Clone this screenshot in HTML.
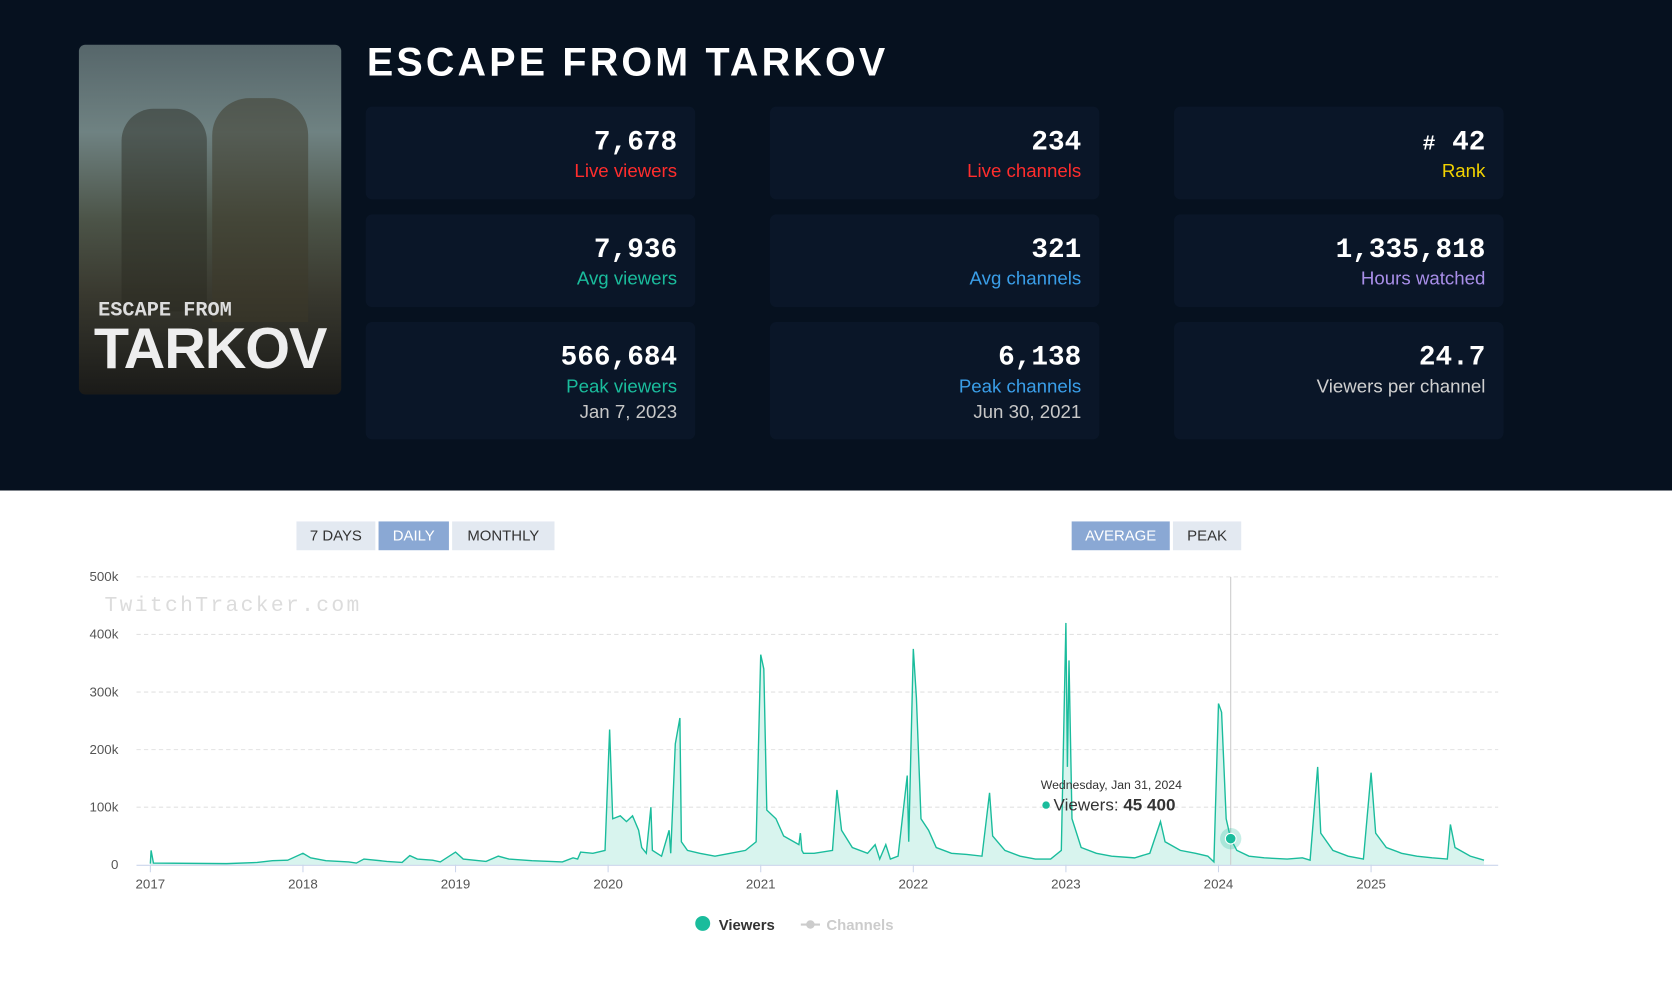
<!DOCTYPE html>
<html><head><meta charset="utf-8">
<style>
html,body{margin:0;padding:0;width:1672px;height:984px;overflow:hidden;background:#fff;font-family:"Liberation Sans",sans-serif}
#root{position:absolute;left:0;top:0;width:1568px;height:923px;transform:scale(1.06633);transform-origin:0 0}
#hero{position:absolute;left:0;top:0;width:1568px;height:460px;background:#06111f}
.card{position:absolute;width:309px;background:#0a1628;border-radius:6px}
.num{position:absolute;right:17px;font-family:"Liberation Mono",monospace;font-weight:bold;font-size:26px;color:#fff}
.lbl{position:absolute;right:17px;font-size:17.5px}
.dt{position:absolute;right:17px;font-size:17.5px;color:#c8c8c8}
.btn{position:absolute;top:489px;height:27px;line-height:27px;text-align:center;font-size:14px;color:#333;background:#e3e9f1}
</style></head><body>
<div id="root">
<div id="hero">
  <div style="position:absolute;left:74px;top:42px;width:246px;height:328px;border-radius:6px;background:linear-gradient(180deg,#56666a 0%,#6f8282 25%,#4c5448 50%,#3a3a30 70%,#1a1a18 100%);overflow:hidden">
    <div style="position:absolute;left:40px;top:60px;width:80px;height:190px;background:rgba(40,40,30,0.45);border-radius:30px 30px 0 0"></div>
    <div style="position:absolute;left:125px;top:50px;width:90px;height:210px;background:rgba(60,55,40,0.5);border-radius:35px 35px 0 0"></div>
    <div style="position:absolute;left:18px;top:238px;font-family:'Liberation Mono',monospace;font-weight:bold;font-size:19px;color:#ddd">ESCAPE FROM</div>
    <div style="position:absolute;left:14px;top:254px;font-family:'Liberation Sans',sans-serif;font-weight:bold;font-size:54px;color:#eee;letter-spacing:-1px">TARKOV</div>
  </div>
  <div style="position:absolute;left:344px;top:38px;font-size:37px;font-weight:bold;color:#fff;letter-spacing:3px">ESCAPE FROM TARKOV</div>

  <div class="card" style="left:343px;top:100px;height:87px"><div class="num" style="top:18px">7,678</div><div class="lbl" style="top:50px;color:#ff2d2d">Live viewers</div></div>
  <div class="card" style="left:722px;top:100px;height:87px"><div class="num" style="top:18px">234</div><div class="lbl" style="top:50px;color:#ff2d2d">Live channels</div></div>
  <div class="card" style="left:1101px;top:100px;height:87px"><div class="num" style="top:18px"><span style="font-size:20px">#</span> 42</div><div class="lbl" style="top:50px;color:#f2d200">Rank</div></div>

  <div class="card" style="left:343px;top:201px;height:87px"><div class="num" style="top:18px">7,936</div><div class="lbl" style="top:50px;color:#1abc9c">Avg viewers</div></div>
  <div class="card" style="left:722px;top:201px;height:87px"><div class="num" style="top:18px">321</div><div class="lbl" style="top:50px;color:#3a9ee8">Avg channels</div></div>
  <div class="card" style="left:1101px;top:201px;height:87px"><div class="num" style="top:18px">1,335,818</div><div class="lbl" style="top:50px;color:#a88ee8">Hours watched</div></div>

  <div class="card" style="left:343px;top:302px;height:110px"><div class="num" style="top:18px">566,684</div><div class="lbl" style="top:50px;color:#1abc9c">Peak viewers</div><div class="dt" style="top:74px">Jan 7, 2023</div></div>
  <div class="card" style="left:722px;top:302px;height:110px"><div class="num" style="top:18px">6,138</div><div class="lbl" style="top:50px;color:#3a9ee8">Peak channels</div><div class="dt" style="top:74px">Jun 30, 2021</div></div>
  <div class="card" style="left:1101px;top:302px;height:110px"><div class="num" style="top:18px">24.7</div><div class="lbl" style="top:50px;color:#d0d0d0">Viewers per channel</div></div>
</div>

<div class="btn" style="left:278px;width:74px">7 DAYS</div>
<div class="btn" style="left:355px;width:66px;background:#8aa8d4;color:#fff">DAILY</div>
<div class="btn" style="left:424px;width:96px">MONTHLY</div>
<div class="btn" style="left:1005px;width:92px;background:#8aa8d4;color:#fff">AVERAGE</div>
<div class="btn" style="left:1100px;width:64px">PEAK</div>

<svg id="chart" width="1568" height="923" style="position:absolute;left:0;top:0" font-family="Liberation Sans, sans-serif"></svg>
</div>
<script>
const yearTicks=[2017,2018,2019,2020,2021,2022,2023,2024,2025];
const yTicks=[0,100,200,300,400,500];
const yTickLabels=["0","100k","200k","300k","400k","500k"];
const dates=[2017.0,2017.005,2017.02,2017.5,2017.7,2017.8,2017.9,2018.0,2018.05,2018.15,2018.3,2018.35,2018.4,2018.55,2018.65,2018.7,2018.75,2018.85,2018.9,2019.0,2019.05,2019.2,2019.28,2019.35,2019.5,2019.7,2019.77,2019.8,2019.82,2019.9,2019.98,2020.01,2020.03,2020.08,2020.12,2020.16,2020.2,2020.22,2020.25,2020.28,2020.29,2020.35,2020.4,2020.41,2020.44,2020.47,2020.48,2020.52,2020.6,2020.7,2020.8,2020.9,2020.97,2021.0,2021.02,2021.04,2021.1,2021.15,2021.25,2021.26,2021.27,2021.28,2021.35,2021.47,2021.5,2021.53,2021.6,2021.7,2021.75,2021.78,2021.82,2021.85,2021.9,2021.96,2021.97,2022.0,2022.02,2022.05,2022.1,2022.15,2022.25,2022.35,2022.45,2022.5,2022.52,2022.6,2022.7,2022.8,2022.9,2022.97,2023.0,2023.01,2023.02,2023.04,2023.1,2023.2,2023.3,2023.45,2023.55,2023.62,2023.65,2023.75,2023.85,2023.93,2023.97,2024.0,2024.02,2024.05,2024.08,2024.12,2024.2,2024.3,2024.45,2024.55,2024.6,2024.65,2024.67,2024.75,2024.85,2024.95,2025.0,2025.03,2025.1,2025.2,2025.3,2025.4,2025.5,2025.52,2025.55,2025.65,2025.74];
const viewers=[2,25,3,2,4,7,8,20,12,7,5,3,10,6,4,16,10,8,5,22,10,6,15,10,7,5,12,10,22,20,25,235,80,85,75,85,60,30,20,100,25,15,60,20,210,255,40,25,20,15,20,25,40,365,340,95,80,50,35,55,25,20,20,25,130,60,30,20,35,10,35,10,15,155,40,375,290,80,60,30,20,18,15,125,50,25,15,10,10,25,420,170,355,80,30,20,15,12,20,75,40,25,20,15,5,280,265,80,45.4,25,15,12,10,12,8,170,55,25,15,10,160,55,30,20,15,12,10,70,30,15,8];
const NS="http://www.w3.org/2000/svg";
const svg=document.getElementById('chart');
const x0=141,xPerYear=143.1,yBase=811,yPerK=0.54;
const xs=d=>x0+(d-2017)*xPerYear;
const ys=v=>yBase-v*yPerK;
function mk(tag,attrs){const e=document.createElementNS(NS,tag);for(const k in attrs)e.setAttribute(k,attrs[k]);svg.appendChild(e);return e;}
yTicks.forEach((t,i)=>{
  if(t>0){const g=mk('line',{x1:128,x2:1405,y1:ys(t),y2:ys(t),stroke:'#e2e2e2','stroke-dasharray':'4,3'});
  
  }
  const l=mk('text',{x:111,y:ys(t)+4,'text-anchor':'end','font-size':12.5,fill:'#555'});l.textContent=yTickLabels[i];
  
  
});
const wm=mk('text',{x:98,y:573,'font-size':20,fill:'#dcdcdc','font-family':'Liberation Mono, monospace','textLength':239});wm.textContent='TwitchTracker.com';


const ax=mk('line',{x1:128,x2:1405,y1:811.5,y2:811.5,stroke:'#ccd6eb'});


yearTicks.forEach(y=>{
  const t=mk('line',{x1:xs(y),x2:xs(y),y1:811,y2:818,stroke:'#ccd6eb'});
  
  
  const l=mk('text',{x:xs(y),y:833,'text-anchor':'middle','font-size':12.5,fill:'#555'});l.textContent=y;
  
  
});
let d='';dates.forEach((dt,i)=>{d+=(i?'L':'M')+xs(dt).toFixed(1)+','+ys(viewers[i]).toFixed(1);});
const area=mk('path',{d:d+'L'+xs(dates[dates.length-1]).toFixed(1)+','+yBase+'L'+xs(dates[0])+','+yBase+'Z',fill:'rgba(26,188,156,0.17)',stroke:'none'});


const line=mk('path',{d:d,fill:'none',stroke:'#1abc9c','stroke-width':1.3});


const hi=dates.indexOf(2024.08);
const cross=mk('line',{x1:xs(dates[hi]),x2:xs(dates[hi]),y1:541,y2:811,stroke:'#ccc'});


const halo=mk('circle',{cx:xs(dates[hi]),cy:ys(viewers[hi]),r:10,fill:'rgba(26,188,156,0.25)'});


const pt=mk('circle',{cx:xs(dates[hi]),cy:ys(viewers[hi]),r:5,fill:'#1abc9c',stroke:'#fff','stroke-width':1});


const tt1=mk('text',{x:976,y:740,'font-size':11.5,fill:'#333'});tt1.textContent='Wednesday, Jan 31, 2024';


const td=mk('circle',{cx:981,cy:755,r:3.5,fill:'#1abc9c'});


const tt2=mk('text',{x:988,y:760,'font-size':16,fill:'#333'});tt2.innerHTML='Viewers: <tspan font-weight="bold">45 400</tspan>';


const lg1=mk('circle',{cx:659,cy:866,r:7,fill:'#1abc9c'});


const lt1=mk('text',{x:674,y:872,'font-size':14,'font-weight':'bold',fill:'#333'});lt1.textContent='Viewers';


const lg2=mk('line',{x1:751,x2:769,y1:867,y2:867,stroke:'#ccc','stroke-width':2});


const lg3=mk('circle',{cx:760,cy:867,r:4,fill:'#ccc'});


const lt2=mk('text',{x:775,y:872,'font-size':14,'font-weight':'bold',fill:'#ccc'});lt2.textContent='Channels';


</script>
</body></html>
